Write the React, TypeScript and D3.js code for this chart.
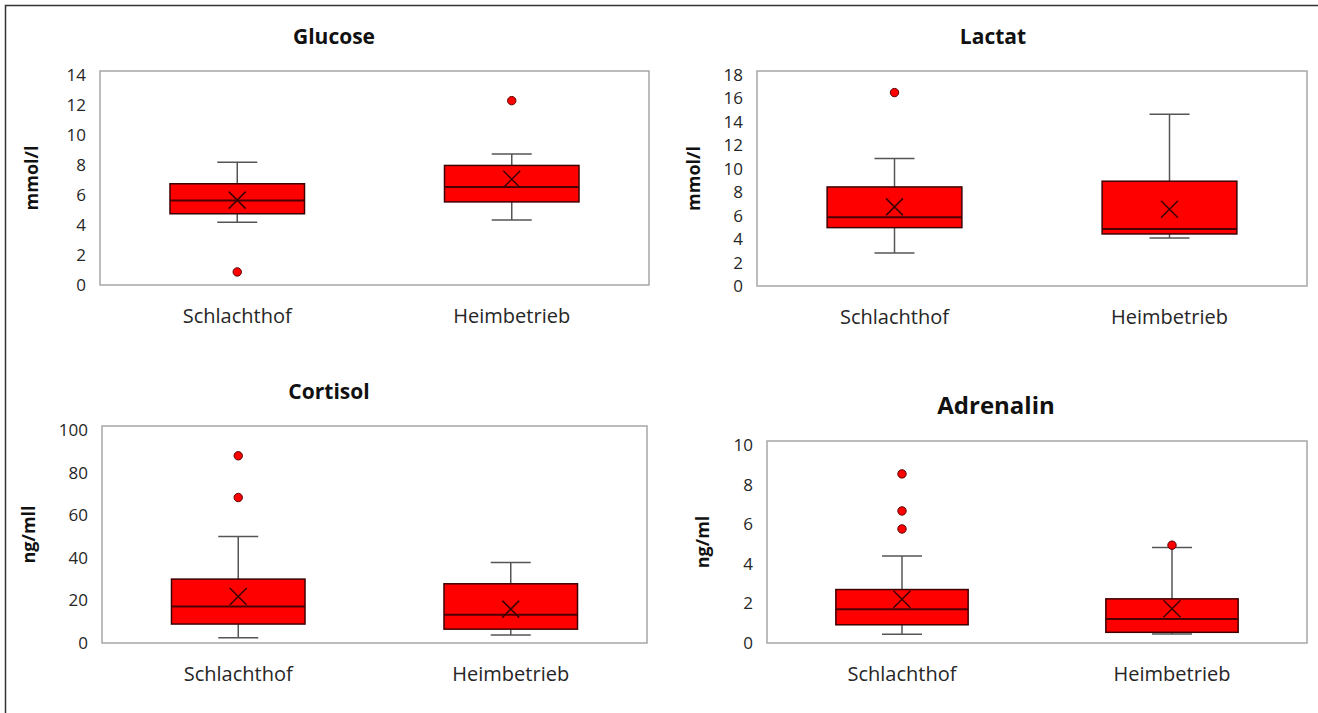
import React, { useEffect, useRef } from 'react';
import * as d3 from 'd3';

const groups = ["Schlachthof", "Heimbetrieb"];

const glucoseStats = [
    { min: 4.19, q1: 4.75, median: 5.64, q3: 6.75, max: 8.18, mean: 5.66, outliers: [0.87] },
    { min: 4.33, q1: 5.54, median: 6.54, q3: 7.97, max: 8.74, mean: 7.05, outliers: [12.29] },
];
const lactatStats = [
    { min: 2.81, q1: 4.98, median: 5.86, q3: 8.45, max: 10.87, mean: 6.75, outliers: [16.5] },
    { min: 4.1, q1: 4.44, median: 4.86, q3: 8.94, max: 14.65, mean: 6.54, outliers: [] },
];
const cortisolStats = [
    { min: 2.45, q1: 8.9, median: 17.1, q3: 30.0, max: 50.0, mean: 21.8, outliers: [87.9, 68.3] },
    { min: 3.8, q1: 6.5, median: 13.3, q3: 27.8, max: 37.8, mean: 15.9, outliers: [] },
];
const adrenalinStats = [
    { min: 0.44, q1: 0.92, median: 1.71, q3: 2.7, max: 4.39, mean: 2.21, outliers: [8.54, 6.67, 5.76] },
    { min: 0.45, q1: 0.54, median: 1.21, q3: 2.23, max: 4.82, mean: 1.73, outliers: [4.94] },
];

const titles = ["Glucose", "Lactat", "Cortisol", "Adrenalin"];
const units = ["mmol/l", "mmol/l", "ng/mll", "ng/ml"];
const yMax = [14, 18, 100, 10];
const yStep = [2, 2, 20, 2];

// Layout der vier Panels (Plotbereich in Pixel)
const panels = [
    { stats: glucoseStats, x0: 100, x1: 649, y0: 71, y1: 285, tx: 334, ty: 37, ts: 21, lx: 32 },
    { stats: lactatStats, x0: 757, x1: 1307, y0: 71, y1: 286, tx: 993, ty: 37, ts: 21, lx: 694 },
    { stats: cortisolStats, x0: 102, x1: 647, y0: 426, y1: 643, tx: 329, ty: 392, ts: 21, lx: 29 },
    { stats: adrenalinStats, x0: 767, x1: 1307, y0: 441, y1: 643, tx: 996, ty: 406, ts: 24, lx: 703 },
];

const FONT = "'Open Sans', Lato, sans-serif";

function App() {
    const svgRef = useRef(null);

    useEffect(() => {
        document.body.style.margin = "0";
        const svg = d3.select(svgRef.current);
        svg.html("");

        // Rahmen (nur links und oben sichtbar)
        svg.append("path")
            .attr("d", "M5.5,713 V5.5 H1318")
            .attr("fill", "none")
            .attr("stroke", "#333")
            .attr("stroke-width", 1.5);

        panels.forEach((p, i) => {
            const g = svg.append("g");
            const x = d3.scaleBand().domain(groups).range([p.x0, p.x1]);
            // Achsenmaximum liegt etwas unter dem Rahmen
            const y = d3.scaleLinear().domain([0, yMax[i]]).range([p.y1, p.y0 + 4]);
            const bw = x.bandwidth() * 0.49;
            const capW = 40;

            // Plotrahmen
            g.append("rect")
                .attr("x", p.x0).attr("y", p.y0)
                .attr("width", p.x1 - p.x0).attr("height", p.y1 - p.y0)
                .attr("fill", "none")
                .attr("stroke", "#a6a6a6")
                .attr("stroke-width", 1.5);

            // Y-Achse Beschriftung
            g.selectAll(".ytick")
                .data(d3.range(0, yMax[i] + 0.001, yStep[i]))
                .join("text")
                .attr("x", p.x0 - 14)
                .attr("y", d => y(d))
                .attr("dy", "0.35em")
                .attr("text-anchor", "end")
                .style("font-family", FONT)
                .style("font-size", "17px")
                .style("fill", "#262626")
                .text(d => d);

            // Titel
            g.append("text")
                .attr("x", p.tx).attr("y", p.ty)
                .attr("dy", "0.35em")
                .attr("text-anchor", "middle")
                .style("font-family", FONT)
                .style("font-weight", "bold")
                .style("font-size", p.ts + "px")
                .style("fill", "#111")
                .text(titles[i]);

            // Einheit
            g.append("text")
                .attr("transform", `translate(${p.lx},${(p.y0 + p.y1) / 2}) rotate(-90)`)
                .attr("dy", "0.35em")
                .attr("text-anchor", "middle")
                .style("font-family", FONT)
                .style("font-weight", "bold")
                .style("font-size", "18px")
                .style("fill", "#111")
                .text(units[i]);

            // Kategorien
            g.selectAll(".xcat")
                .data(groups)
                .join("text")
                .attr("x", d => x(d) + x.bandwidth() / 2)
                .attr("y", p.y1 + 31)
                .attr("dy", "0.35em")
                .attr("text-anchor", "middle")
                .style("font-family", FONT)
                .style("font-size", "20px")
                .style("fill", "#262626")
                .text(d => d);

            p.stats.forEach((s, j) => {
                const cx = x(groups[j]) + x.bandwidth() / 2;
                const bg = g.append("g");

                // Whisker
                bg.append("line")
                    .attr("x1", cx).attr("x2", cx)
                    .attr("y1", y(s.max)).attr("y2", y(s.q3))
                    .attr("stroke", "#555").attr("stroke-width", 1.5);
                bg.append("line")
                    .attr("x1", cx).attr("x2", cx)
                    .attr("y1", y(s.q1)).attr("y2", y(s.min))
                    .attr("stroke", "#555").attr("stroke-width", 1.5);
                [s.max, s.min].forEach(v => {
                    bg.append("line")
                        .attr("x1", cx - capW / 2).attr("x2", cx + capW / 2)
                        .attr("y1", y(v)).attr("y2", y(v))
                        .attr("stroke", "#555").attr("stroke-width", 1.5);
                });

                // Box
                bg.append("rect")
                    .attr("x", cx - bw / 2)
                    .attr("y", y(s.q3))
                    .attr("width", bw)
                    .attr("height", y(s.q1) - y(s.q3))
                    .attr("fill", "#ff0000")
                    .attr("stroke", "#3d0000")
                    .attr("stroke-width", 1.5);

                // Median
                bg.append("line")
                    .attr("x1", cx - bw / 2).attr("x2", cx + bw / 2)
                    .attr("y1", y(s.median)).attr("y2", y(s.median))
                    .attr("stroke", "#4a0000").attr("stroke-width", 2);

                // Mittelwert (X)
                const m = y(s.mean), r = 8.5;
                bg.append("path")
                    .attr("d", `M${cx - r},${m - r}L${cx + r},${m + r}M${cx - r},${m + r}L${cx + r},${m - r}`)
                    .attr("stroke", "#3a0000")
                    .attr("stroke-width", 1.5)
                    .attr("fill", "none");

                // Ausreißer
                bg.selectAll("circle")
                    .data(s.outliers)
                    .join("circle")
                    .attr("cx", cx)
                    .attr("cy", d => y(d))
                    .attr("r", 4.2)
                    .attr("fill", "#ff0000")
                    .attr("stroke", "#5a0000")
                    .attr("stroke-width", 1);
            });
        });
    }, []);

    return (
        <svg ref={svgRef} width={1318} height={713} style={{ display: "block", background: "#fff" }}></svg>
    );
}

export default App;
